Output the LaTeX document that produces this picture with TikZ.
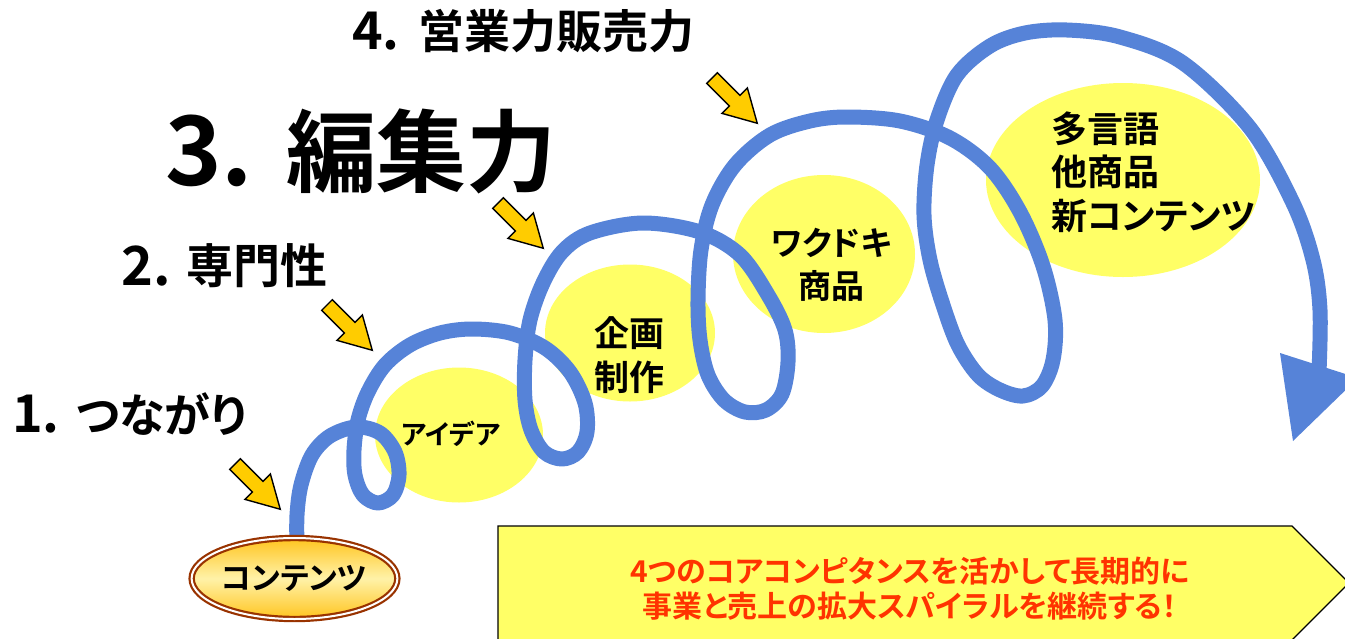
\documentclass[tikz,border=0pt]{standalone}
\usepackage{fontspec}
\setmainfont{Noto Sans CJK JP}[BoldFont={Noto Sans CJK JP Bold},RawFeature={+palt}]
\usetikzlibrary{shapes.geometric}
\definecolor{spiralblue}{RGB}{86,131,216}
\definecolor{bubbleyellow}{RGB}{255,255,102}
\definecolor{goldarrow}{RGB}{255,204,0}
\definecolor{brownline}{RGB}{153,51,0}
\definecolor{redtext}{RGB}{255,51,0}
\definecolor{goldtop}{RGB}{255,196,30}
\definecolor{goldmid}{RGB}{255,242,168}
\tikzset{
  bubble/.style={ellipse, fill=bubbleyellow, inner sep=0pt},
  spiralline/.style={draw=spiralblue, line width=15pt, line cap=butt, line join=round},
  lbl/.style={inner sep=0pt, font=\bfseries\fontsize{#1}{#1}\selectfont, text=black},
  mlbl/.style 2 args={inner sep=0pt, font=\bfseries\fontsize{#1}{#2}\selectfont, text=black},
  garrow/.pic={
    \draw[fill=goldarrow, draw=black, line width=1.4pt, line join=miter]
      (0,-7.5) -- (32,-7.5) -- (32,-18) -- (64,0) -- (32,18) -- (32,7.5) -- (0,7.5) -- cycle;
  }
}
\begin{document}
\begin{tikzpicture}[x=1pt,y=-1pt]
\useasboundingbox (0,0) rectangle (1345,638);
\clip (0,0) rectangle (1345,638);
\fill[white] (0,0) rectangle (1345,638);

% yellow bubbles
\node[bubble, minimum width=168pt, minimum height=135pt] (e1) at (459,435) {};
\node[bubble, minimum width=170pt, minimum height=137pt] (e2) at (630,333) {};
\node[bubble, minimum width=182pt, minimum height=158pt] (e3) at (824,254) {};
\node[bubble, minimum width=274pt, minimum height=194pt] (e4) at (1123,180) {};

% spiral
\draw[spiralline] plot[smooth, tension=0.55] coordinates {
 (297,548) (297,515) (301,485) (312,455) (330,436) (356,427) (380,433) (395,452)
 (399,475) (393,495) (378,503) (363,495) (355,475) (354,450) (358,420) (368,392)
 (385,365) (410,345) (440,333) (472,329) (510,333) (545,348) (570,372) (585,403)
 (587,432) (578,452) (562,459) (544,452) (531,430) (525,400) (525,360) (530,320)
 (543,283) (562,252) (590,233) (643,223) (700,232) (740,255) (768,295) (785,330)
 (788,362) (782,394) (766,410) (745,412) (724,400) (708,375) (700,340) (698,300)
 (701,250) (712,205) (735,165) (770,135) (810,121) (847,117) (900,121) (950,138)
 (990,168) (1020,212) (1043,266) (1055,320) (1053,360) (1042,386) (1023,396)
 (1000,390) (978,375) (958,345) (943,305) (930,260) (924,215) (927,165) (937,120)
 (957,75) (990,46) (1025,33) (1067,30) (1120,37) (1183,63) (1250,128) (1293,203)
 (1313,260) (1320,310) (1319,372)
};
\fill[spiralblue] (1280,353) -- (1358,378) -- (1293,441) -- cycle;

% bubble labels
\node[lbl=27] (t1) at (451,434) {アイデア};
\node[mlbl={35}{44}, align=center] (t2) at (629,355) {企画\\制作};
\node[mlbl={33}{43}, align=center] (t3) at (831,265) {ワクドキ\\商品};
\node[mlbl={36}{43.5}, align=left, anchor=west] (t4) at (1051,172) {多言語\\他商品\\新コンテンツ};

% headings
\node[lbl=52, anchor=west] (h4n) at (352,31) {4.};
\node[lbl=46, anchor=west] (h4) at (418,31) {営業力販売力};
\node[lbl=96, anchor=west] (h3n) at (165,151) {3.};
\node[lbl=90, anchor=west] (h3) at (286,151) {編集力};
\node[lbl=54, anchor=west] (h2n) at (121,266) {2.};
\node[lbl=47, anchor=west] (h2) at (186,266) {専門性};
\node[lbl=52, anchor=west] (h1n) at (12,414) {1.};
\node[lbl=46, anchor=west] (h1) at (76,414) {つながり};

% gold pointer arrows
\pic[rotate=-45] at (235,464) {garrow};
\pic[rotate=-45] at (327,305) {garrow};
\pic[rotate=-45] at (498,203) {garrow};
\pic[rotate=-45] at (712,78) {garrow};

% content ellipse
\node[ellipse, minimum width=180pt, minimum height=81pt, inner sep=0pt,
      draw=brownline, line width=2.2pt, double=white, double distance=2pt,
      top color=goldtop, bottom color=goldtop, middle color=goldmid,
      font=\bfseries\fontsize{31}{31}\selectfont] (content) at (294.5,578.5) {コンテンツ};

% message box
\draw[fill=bubbleyellow, draw=black, line width=1.3pt]
  (498,526) -- (1292,526) -- (1349,583) -- (1292,640) -- (498,640) -- cycle;
\node[mlbl={30}{35}, align=center, text=redtext] (msg) at (910,589)
  {4つのコアコンピタンスを活かして長期的に\\事業と売上の拡大スパイラルを継続する！};
\end{tikzpicture}
\end{document}
